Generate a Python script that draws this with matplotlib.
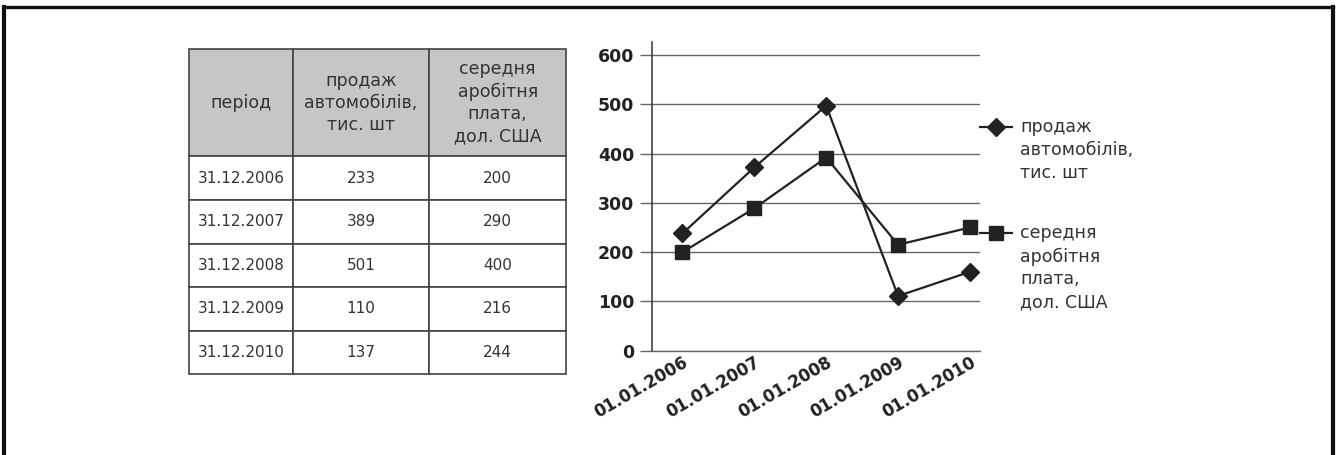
import matplotlib
matplotlib.use('Agg')
import matplotlib.pyplot as plt
import matplotlib.transforms as mtransforms
from matplotlib.lines import Line2D

plt.rcParams['font.family'] = ['DejaVu Sans']

# table data
periods = ['31.12.2006', '31.12.2007', '31.12.2008', '31.12.2009', '31.12.2010']
sales_tab = [233, 389, 501, 110, 137]
wage_tab = [200, 290, 400, 216, 244]
col_labels = ['період', 'продаж\nавтомобілів,\nтис. шт', 'середня\nаробітня\nплата,\nдол. США']

# chart data
dates = ['01.01.2006', '01.01.2007', '01.01.2008', '01.01.2009', '01.01.2010']
sales = [238, 372, 497, 111, 160]
wage = [200, 289, 392, 215, 250]
series_names = ['продаж\nавтомобілів,\nтис. шт', 'середня\nаробітня\nплата,\nдол. США']

W, H = 1336, 455
fig = plt.figure(figsize=(W / 100, H / 100), dpi=100)

def frac(x0, y0, x1, y1):
    # pixel box (top-left origin) -> figure fraction rect
    return [x0 / W, 1 - y1 / H, (x1 - x0) / W, (y1 - y0) / H]

# outer frame (open at the bottom)
fc = '#111111'
fig.add_artist(Line2D([4 / W, 4 / W], [0, 1 - 6.5 / H], color=fc, lw=3, transform=fig.transFigure))
fig.add_artist(Line2D([1333 / W, 1333 / W], [0, 1 - 6.5 / H], color=fc, lw=3, transform=fig.transFigure))
fig.add_artist(Line2D([4 / W, 1333 / W], [1 - 6.5 / H, 1 - 6.5 / H], color=fc, lw=2.4, transform=fig.transFigure))

# ---- table ----
ax_t = fig.add_axes(frac(189.3, 49.3, 566, 374.3))
ax_t.axis('off')
cells = [[p, str(s), str(w)] for p, s, w in zip(periods, sales_tab, wage_tab)]
tab = ax_t.table(cellText=cells, colLabels=col_labels, cellLoc='center',
                 colWidths=[0.2745, 0.3627, 0.3628], bbox=[0, 0, 1, 1])
tab.auto_set_font_size(False)
for (r, c), cell in tab.get_celld().items():
    cell.set_edgecolor('#444444')
    cell.set_linewidth(1.2)
    cell.PAD = 0.03
    if r == 0:
        cell.set_height(0.329)
        cell.set_facecolor('#c6c6c6')
        cell.get_text().set_fontsize(12.5)
        cell.get_text().set_linespacing(1.3)
    else:
        cell.set_height(0.134)
        cell.get_text().set_fontsize(11)
    cell.get_text().set_color('#333333')

# ---- line chart ----
ax = fig.add_axes(frac(652.3, 41.7, 980, 350.7))
x = range(len(dates))
ax.plot(x, sales, color='#222222', lw=1.6, marker='D', ms=9.5, zorder=3, clip_on=False)
ax.plot(x, wage, color='#222222', lw=1.6, marker='s', ms=10.5, zorder=3, clip_on=False)

ax.set_xlim(-0.42, 4.14)
ax.set_ylim(0, 627)
ax.set_yticks(range(0, 601, 100))
ax.set_xticks(list(x))
ax.set_xticklabels(dates, rotation=30, ha='right', va='top', rotation_mode='anchor',
                   fontsize=12, fontweight='bold', color='#222222')
shift = mtransforms.ScaledTranslation(13 / 100, -10 / 100, fig.dpi_scale_trans)
for lab in ax.get_xticklabels():
    lab.set_transform(lab.get_transform() + shift)
ax.tick_params(axis='x', length=0, pad=2)
ax.tick_params(axis='y', length=9, width=1, color='#666666', pad=4,
               labelsize=12.5, labelcolor='#222222')
for lab in ax.get_yticklabels():
    lab.set_fontweight('bold')
ax.grid(axis='y', color='#666666', lw=1)
ax.set_axisbelow(True)
for side in ['top', 'right']:
    ax.spines[side].set_visible(False)
ax.spines['left'].set_color('#333333')
ax.spines['left'].set_linewidth(1.1)
ax.spines['bottom'].set_color('#666666')
ax.spines['bottom'].set_linewidth(1)

# legend at the right of the plot
leg_specs = [('D', 9, 1 - (127 - 41.7) / 309), ('s', 9.5, 1 - (233 - 41.7) / 309)]
for (mk, ms, ly), name in zip(leg_specs, series_names):
    ax.add_line(Line2D([1.0, 1.0976], [ly, ly], color='#222222', lw=1.6, transform=ax.transAxes, clip_on=False))
    ax.add_line(Line2D([1.0488], [ly], marker=mk, ms=ms, color='#222222', transform=ax.transAxes, clip_on=False))
    ax.text(1.122, ly + 0.028, name, transform=ax.transAxes, ha='left', va='top',
            fontsize=12.5, color='#333333', linespacing=1.35)

fig.savefig('out.png', dpi=100)
